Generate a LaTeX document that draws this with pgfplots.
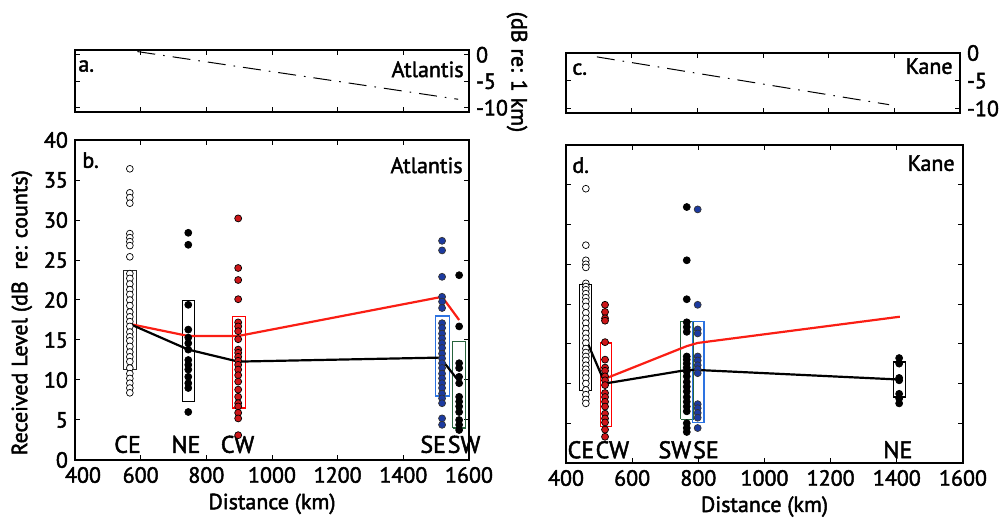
\documentclass[border=0pt]{standalone}
\usepackage{pgfplots}
\pgfplotsset{compat=1.18}
\usepackage{fontspec}
\setmainfont{PT Sans}[FakeBold=2]

\definecolor{dotred}{RGB}{205,22,25}
\definecolor{dotblue}{RGB}{28,58,160}
\definecolor{boxblue}{RGB}{45,115,225}
\definecolor{boxgreen}{RGB}{40,100,60}
\definecolor{linered}{RGB}{250,30,20}

\tikzset{
  site/.style={font=\fontsize{12}{14}\selectfont, anchor=base, inner sep=0pt},
  tag/.style={font=\fontsize{11}{13}\selectfont, inner sep=0pt},
}

\pgfplotsset{
  panel/.style={
    scale only axis,
    xmin=400, xmax=1600,
    xtick={400,600,...,1600},
    tick align=inside,
    major tick length=2.5pt,
    axis line style={line width=0.6pt},
    every tick/.style={black, line width=0.5pt},
    /pgf/number format/assume math mode=true,
    /pgf/number format/1000 sep={},
    tick label style={font=\fontsize{11}{13}\selectfont},
    label style={font=\fontsize{11}{13}\selectfont},
  },
  topmark/.style={black, line width=0.5pt, dash pattern=on 9pt off 4pt on 0.8pt off 4pt},
  bigpanel/.style={
    clip=false,
    ymin=0, ymax=40, ytick={0,5,...,40},
    xlabel={Distance (km)},
    xlabel style={at={(axis description cs:0.5,-0.137)}, anchor=center},
  },
  opendot/.style={only marks, mark=*, mark size=1.7pt, mark options={draw=black, fill=white, line width=0.35pt}},
  reddot/.style={only marks, mark=*, mark size=1.75pt, mark options={draw=black, fill=dotred, line width=0.35pt}},
  bluedot/.style={only marks, mark=*, mark size=1.75pt, mark options={draw=black!80, fill=dotblue, line width=0.35pt}},
  blackdot/.style={only marks, mark=*, mark size=1.75pt, mark options={draw=black, fill=black, line width=0.35pt}},
  qbox/.style={line width=0.55pt, mark=none},
  meanred/.style={linered, line width=1.1pt, mark=none},
  meanblack/.style={black, line width=1.1pt, mark=none},
}

\begin{document}
\begin{tikzpicture}
\useasboundingbox (0,0) rectangle (501pt,262.5pt);

% ---------------- a. Atlantis, relative level ----------------
\begin{axis}[panel, at={(37.5pt,206.5pt)}, anchor=south west,
  width=197pt, height=31pt,
  ymin=-10.8, ymax=0.9, ytick={-10,-5,0}, yticklabels={-10,-5,0},
  yticklabel pos=right, xticklabels={}]
\addplot[topmark] coordinates {(590,0.6) (1567,-8.4)};
\node[tag, anchor=north west] at (rel axis cs:0,1) [xshift=1.5pt, yshift=-5pt] {a.};
\node[tag, anchor=north east] at (rel axis cs:1,1) [xshift=-2.5pt, yshift=-5.5pt] {Atlantis};
\end{axis}

% ---------------- b. Atlantis, received level ----------------
\begin{axis}[panel, bigpanel, at={(37.5pt,32.5pt)}, anchor=south west,
  width=197pt, height=160pt,
  xticklabels={\hspace*{8pt}400,600,800,1000,1200,1400,1600},
  ylabel={Received Level (dB\ \ re: counts)},
  ylabel style={at={(axis description cs:-0.135,0.46)}, anchor=center}]
% interquartile boxes
\addplot[qbox, black!85] coordinates {(548,11.3) (586,11.3) (586,23.7) (548,23.7) (548,11.3)};
\addplot[qbox, black] coordinates {(728,7.3) (765,7.3) (765,19.9) (728,19.9) (728,7.3)};
\addplot[qbox, red] coordinates {(879,6.5) (918,6.5) (918,17.9) (879,17.9) (879,6.5)};
\addplot[qbox, boxblue] coordinates {(1497,8.0) (1540,8.0) (1540,18.0) (1497,18.0) (1497,8.0)};
\addplot[qbox, boxgreen] coordinates {(1550,4.0) (1590,4.0) (1590,14.8) (1550,14.8) (1550,4.0)};
% CE
\addplot[opendot] coordinates {
 (567,36.4) (567,33.4) (567,32.8) (567,32.1) (567,28.3) (567,27.8) (567,27.3)
 (567,26.8) (567,25.4) (567,23.3) (567,22.7) (567,22.0) (567,21.3) (567,20.7)
 (567,20.0) (567,19.3) (567,18.5) (567,17.9) (567,17.3) (567,16.7) (567,16.0)
 (567,15.4) (567,14.9) (567,14.2) (567,13.5) (567,12.9) (567,12.3) (567,11.5)
 (567,10.8) (567,10.2) (567,9.6) (567,9.0) (567,8.4)};
% NE
\addplot[blackdot] coordinates {
 (745,28.4) (745,26.9) (745,19.4) (745,16.3) (745,15.3) (745,14.6) (745,13.8)
 (745,12.5) (745,11.9) (745,11.3) (745,10.4) (745,9.6) (745,9.0) (745,6.0)};
% CW
\addplot[reddot] coordinates {
 (897,30.2) (897,24.0) (897,22.5) (897,20.1) (897,17.2) (897,16.7) (897,16.1)
 (897,15.1) (897,13.8) (897,13.4) (897,12.9) (897,12.4) (897,11.9) (897,11.3)
 (897,10.6) (897,9.8) (897,8.8) (897,7.9) (897,7.1) (897,6.7) (897,5.9)
 (897,5.2) (897,3.1)};
% SE
\addplot[bluedot] coordinates {
 (1518,27.4) (1518,26.2) (1518,22.9) (1518,20.4) (1518,19.8) (1518,19.0)
 (1518,17.1) (1518,16.5) (1518,15.8) (1518,15.2) (1518,14.6) (1518,14.0)
 (1518,13.3) (1518,12.7) (1518,12.1) (1518,11.5) (1518,10.8) (1518,10.2)
 (1518,9.6) (1518,9.0) (1518,8.3) (1518,7.7) (1518,7.1) (1518,5.2) (1518,4.4)};
% SW
\addplot[blackdot] coordinates {
 (1570,23.1) (1570,16.7) (1570,12.1) (1570,11.5) (1570,10.4) (1570,9.6)
 (1570,7.9) (1570,7.3) (1570,6.7) (1570,6.0) (1570,5.0) (1570,4.4) (1570,3.75)};
% mean levels
\addplot[meanred] coordinates {(567,17.0) (745,15.5) (897,15.5) (1518,20.4) (1570,17.5)};
\addplot[meanblack] coordinates {(567,17.0) (745,13.8) (897,12.3) (1512,12.8) (1570,9.8)};
\node[site] at (axis cs:560,0.9) {CE};
\node[site] at (axis cs:738,0.9) {NE};
\node[site] at (axis cs:895,0.9) {CW};
\node[site] at (axis cs:1491,0.9) {SE};
\node[site] at (axis cs:1585,0.9) {SW};
\node[tag, anchor=north west] at (rel axis cs:0,1) [xshift=3.5pt, yshift=-6pt] {b.};
\node[tag, anchor=north east] at (rel axis cs:1,1) [xshift=-3pt, yshift=-8.5pt] {Atlantis};
\end{axis}

\node[font=\fontsize{11}{13}\selectfont, rotate=-90] at (258.5pt,226.5pt) {(dB re: 1 km)};

% ---------------- c. Kane, relative level ----------------
\begin{axis}[panel, at={(283pt,206pt)}, anchor=south west,
  width=197pt, height=30pt,
  ymin=-10.8, ymax=0, ytick={-10,-5,0}, yticklabels={-10,-5,0},
  yticklabel pos=right, xticklabels={}]
\addplot[topmark] coordinates {(494,-0.7) (1384,-9.3)};
\node[tag, anchor=north west] at (rel axis cs:0,1) [xshift=3pt, yshift=-5pt] {c.};
\node[tag, anchor=north east] at (rel axis cs:1,1) [xshift=-3.5pt, yshift=-2.5pt] {Kane};
\end{axis}

% ---------------- d. Kane, received level ----------------
\begin{axis}[panel, bigpanel, at={(283pt,31pt)}, anchor=south west,
  width=198.5pt, height=159pt, yticklabels={}]
\addplot[qbox, black] coordinates {(440,9.1) (478,9.1) (478,22.5) (440,22.5) (440,9.1)};
\addplot[qbox, red] coordinates {(503,4.6) (538,4.6) (538,15.1) (503,15.1) (503,4.6)};
\addplot[qbox, boxgreen] coordinates {(747,5.5) (784,5.5) (784,17.8) (747,17.8) (747,5.5)};
\addplot[qbox, boxblue] coordinates {(782,5.1) (817,5.1) (817,17.8) (782,17.8) (782,5.1)};
\addplot[qbox, black] coordinates {(1389,8.3) (1427,8.3) (1427,12.7) (1389,12.7) (1389,8.3)};
% CE
\addplot[opendot] coordinates {
 (460,34.5) (460,27.4) (460,25.5) (460,25.0) (460,24.6) (460,22.6) (460,22.2)
 (460,21.8) (460,21.3) (460,20.8) (460,20.3) (460,19.7) (460,18.9) (460,18.2)
 (460,17.6) (460,16.9) (460,16.3) (460,15.7) (460,15.1) (460,14.4) (460,13.9)
 (460,13.4) (460,12.9) (460,12.3) (460,11.8) (460,11.3) (460,10.7) (460,10.0)
 (460,9.2) (460,8.6) (460,8.0) (460,7.5)};
% CW
\addplot[reddot] coordinates {
 (518,19.9) (518,19.0) (518,18.2) (518,17.9) (518,15.2) (518,13.0) (518,12.0)
 (518,11.6) (518,10.9) (518,10.4) (518,9.8) (518,8.8) (518,8.3) (518,7.7)
 (518,7.1) (518,6.2) (518,5.6) (518,5.1) (518,4.2) (518,3.3)};
% SW
\addplot[blackdot] coordinates {
 (765,32.2) (765,25.5) (765,20.6) (765,17.7) (765,17.1) (765,16.5) (765,13.4)
 (765,13.0) (765,12.5) (765,12.0) (765,11.5) (765,10.9) (765,10.2) (765,9.6)
 (765,9.0) (765,8.3) (765,7.7) (765,7.1) (765,6.5) (765,5.0) (765,4.4) (765,3.9)};
% SE
\addplot[bluedot] coordinates {
 (798,31.9) (798,19.9) (798,16.8) (798,16.3) (798,13.4) (798,12.9) (798,12.3)
 (798,11.8) (798,11.3) (798,7.4) (798,6.9) (798,6.3) (798,5.7) (798,4.4)};
% NE
\addplot[blackdot] coordinates {
 (1407,13.2) (1407,12.5) (1407,10.7) (1407,10.4) (1407,8.7) (1407,8.1) (1407,7.5)};
% mean levels
\addplot[meanred] coordinates {(518,10.6) (765,14.7) (798,15.1) (1409,18.4)};
\addplot[meanblack] coordinates {(460,15.6) (518,10.0) (765,11.7) (798,11.7) (1407,10.5)};
\node[site] at (axis cs:445,0.6) {CE};
\node[site] at (axis cs:540,0.6) {CW};
\node[site] at (axis cs:729,0.6) {SW};
\node[site] at (axis cs:823,0.6) {SE};
\node[site] at (axis cs:1403,0.6) {NE};
\node[tag, anchor=north west] at (rel axis cs:0,1) [xshift=3pt, yshift=-6pt] {d.};
\node[tag, anchor=north east] at (rel axis cs:1,1) [xshift=-4pt, yshift=-5pt] {Kane};
\end{axis}
\end{tikzpicture}
\end{document}
